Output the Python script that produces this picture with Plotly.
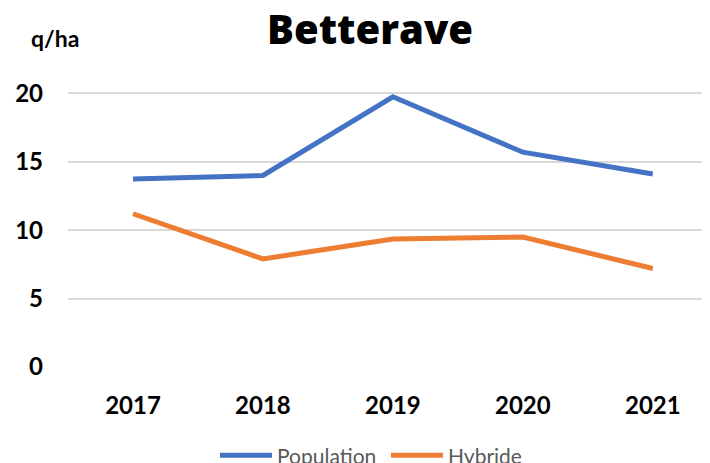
"""Line chart: yield of sugar beet, population vs hybrid varieties."""

import plotly.graph_objects as go

years = ["2017", "2018", "2019", "2020", "2021"]
population = [13.75, 14.0, 19.75, 15.7, 14.1]
hybride = [11.2, 7.9, 9.35, 9.5, 7.2]
y_ticks = [0, 5, 10, 15, 20]

FONT = "Lato, Carlito, Calibri, sans-serif"

fig = go.Figure()
fig.add_trace(go.Scatter(x=years, y=population, mode="lines", name="Population",
                         line=dict(color="#4472C4", width=5)))
fig.add_trace(go.Scatter(x=years, y=hybride, mode="lines", name="Hybride",
                         line=dict(color="#ED7D31", width=5)))

# page body has an 8px margin, so the figure is sized to fit the window
fig.update_layout(
    width=702, height=455,
    margin=dict(l=60, r=0, t=58, b=96, autoexpand=False),
    plot_bgcolor="white", paper_bgcolor="white",
    font=dict(family=FONT, color="black"),
    showlegend=True,
    legend=dict(orientation="h", x=0.229, xanchor="left", yref="container",
                y=0.016, yanchor="middle", entrywidth=104, entrywidthmode="pixels",
                font=dict(size=21, color="#595959"), itemwidth=52),
    xaxis=dict(type="category", range=[-0.5, 4.44], showgrid=False, showline=False,
               ticks="", tickfont=dict(size=24, family=FONT, weight="bold"),
               ticklabelstandoff=22),
    yaxis=dict(range=[0, 22], tickvals=y_ticks, showgrid=True, gridcolor="#d9d9d9",
               gridwidth=2, zeroline=False, showline=False, ticks="",
               tickfont=dict(size=24, family=FONT, weight="bold"), ticklabelstandoff=24),
    annotations=[
        dict(text="Betterave", xref="paper", yref="paper", x=0.47, y=1.123,
             showarrow=False, xanchor="center", yanchor="middle",
             font=dict(size=40, family="Open Sans, sans-serif", weight=800)),
        dict(text="<b>q/ha</b>", xref="paper", yref="paper", x=-0.02, y=1.093,
             showarrow=False, xanchor="center", yanchor="middle",
             font=dict(size=23, family=FONT)),
    ],
)

fig.write_html("out.html")
